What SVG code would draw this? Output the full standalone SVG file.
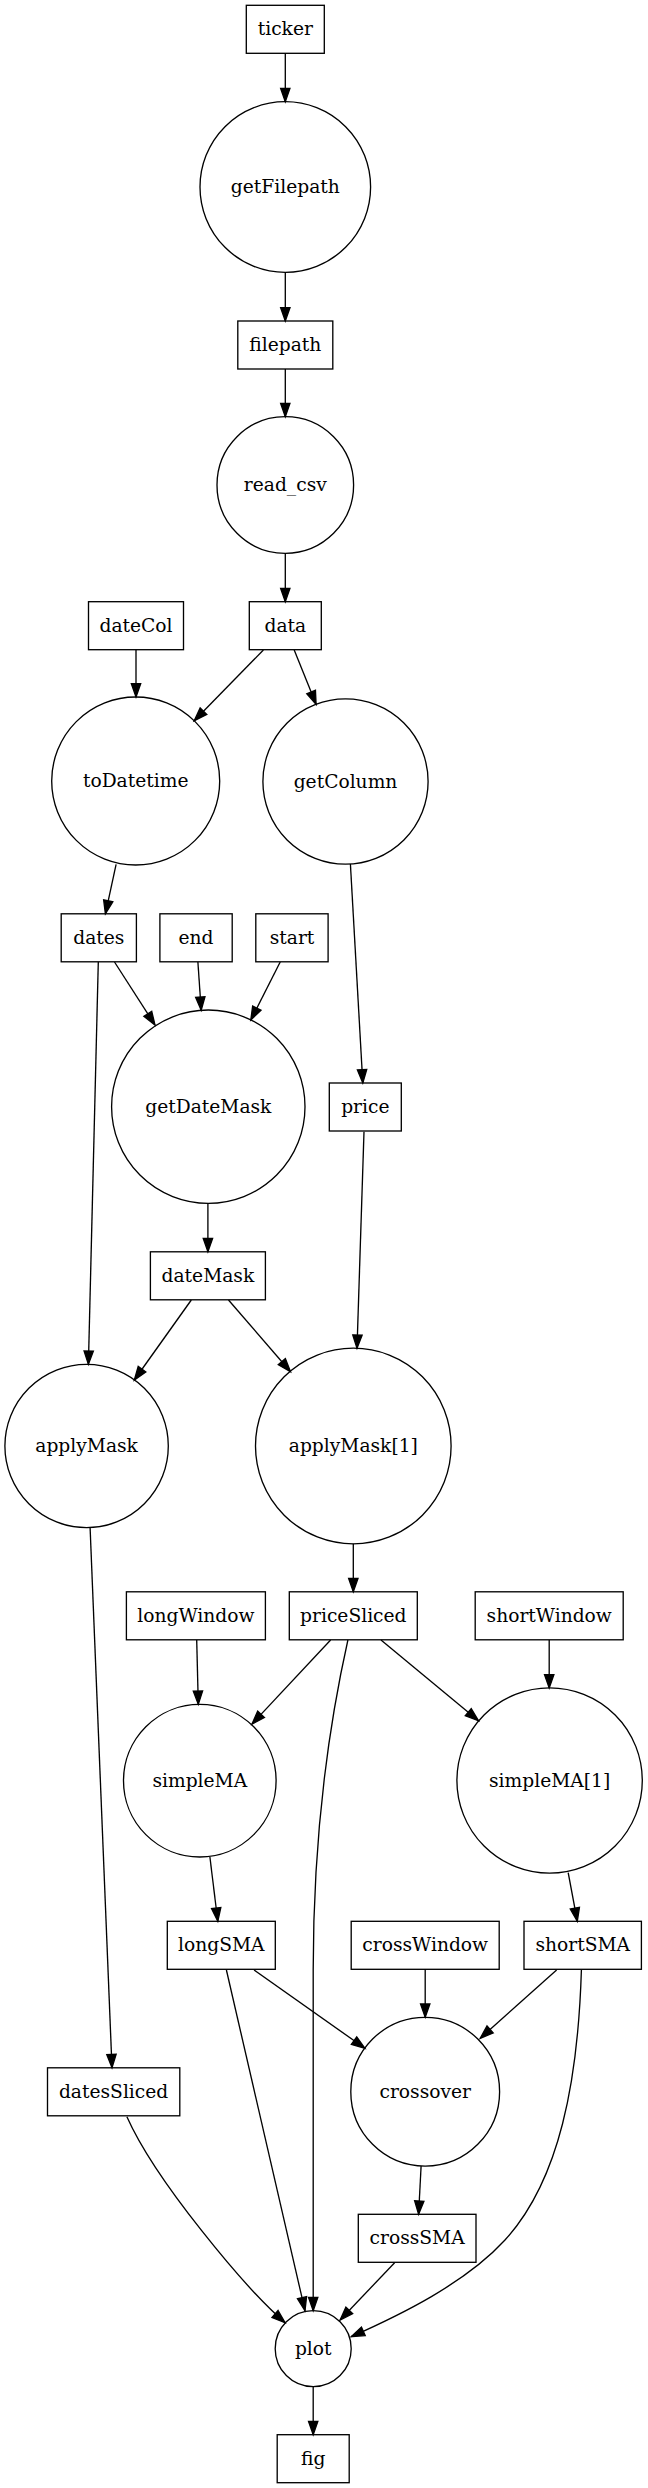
<svg xmlns="http://www.w3.org/2000/svg" width="648" height="2488" viewBox="0 0 648 2488">
<style>
.n rect,.n circle{fill:none;stroke:#000;stroke-width:1.33}
.n text{font-family:"DejaVu Serif",serif;font-size:18.67px;text-anchor:middle;fill:#000}
.e path{fill:none;stroke:#000;stroke-width:1.33;marker-end:url(#ah)}
</style>
<defs>
<marker id="ah" markerUnits="userSpaceOnUse" markerWidth="18" markerHeight="14" refX="14" refY="7" orient="auto" overflow="visible">
<path d="M0.7,2.33 L14,7 L0.7,11.67 z" fill="#000" stroke="#000" stroke-width="1.33"/>
</marker>
</defs>
<rect width="648" height="2488" fill="#fff"/>
<g id="edges" class="e">
<path d="M285.3,53.3 L285.3,101.7"/>
<path d="M285.3,272.3 L285.3,321"/>
<path d="M285.3,369 L285.3,416.7"/>
<path d="M285.3,553.3 L285.3,601.7"/>
<path d="M136,649.7 L136,697"/>
<path d="M263.4,650 L194.2,720.7"/>
<path d="M294.2,650 L316.1,704.3"/>
<path d="M116.1,864.3 L105.4,913.8"/>
<path d="M350.4,864 L362.8,1083"/>
<path d="M114.5,962 L155,1025"/>
<path d="M197.9,962 L201.2,1010.3"/>
<path d="M280.2,962 L250.8,1020"/>
<path d="M98.3,962 L88.4,1364.3"/>
<path d="M207.9,1203.3 L207.9,1251.8"/>
<path d="M364,1131.7 L357,1348.3"/>
<path d="M191.3,1300 L134.3,1380"/>
<path d="M228.5,1300 L290.5,1371.7"/>
<path d="M353.3,1543.7 L353.3,1591.8"/>
<path d="M90.1,1527.7 L112,2067.7"/>
<path d="M196.7,1640 L198.3,1704.3"/>
<path d="M330.6,1640 L252,1724"/>
<path d="M381,1640 L478.5,1720.7"/>
<path d="M549.2,1640 L549.2,1688"/>
<path d="M347.9,1640 C330,1720 313.2,1830 313.2,1970 L313.2,2310.7"/>
<path d="M209.9,1857 L217.8,1921.3"/>
<path d="M568.2,1872.7 L577.3,1921.3"/>
<path d="M425.2,1969.3 L425.2,2017.3"/>
<path d="M254.1,1970 L364.9,2048.3"/>
<path d="M556.6,1970 L480.2,2038.3"/>
<path d="M226.4,1970 L305,2310.7"/>
<path d="M581.4,1970 C578,2080 560,2180 505,2240 C465,2283.6 400,2315 351.2,2336.7"/>
<path d="M421.1,2166 L418.6,2214.3"/>
<path d="M394.6,2262.7 L340.1,2320"/>
<path d="M126.9,2116.7 C155,2180 245,2288 285.1,2322.7"/>
<path d="M313.2,2386.7 L313.2,2434.7"/>
</g>
<g id="ticker" class="n"><rect x="246.3" y="5.3" width="78" height="48"/><text x="285.3" y="35.3">ticker</text></g>
<g id="getFilepath" class="n"><circle cx="285.3" cy="187" r="85.3"/><text x="285.3" y="193">getFilepath</text></g>
<g id="filepath" class="n"><rect x="237.8" y="321" width="95" height="48"/><text x="285.3" y="351">filepath</text></g>
<g id="read_csv" class="n"><circle cx="285.3" cy="485" r="68.3"/><text x="285.3" y="491">read_csv</text></g>
<g id="dateCol" class="n"><rect x="88.5" y="601.7" width="95" height="48"/><text x="136" y="631.7">dateCol</text></g>
<g id="data" class="n"><rect x="249.3" y="601.7" width="72" height="48"/><text x="285.3" y="631.7">data</text></g>
<g id="toDatetime" class="n"><circle cx="135.7" cy="781" r="84"/><text x="135.7" y="787">toDatetime</text></g>
<g id="getColumn" class="n"><circle cx="345.5" cy="781.5" r="82.6"/><text x="345.5" y="787.5">getColumn</text></g>
<g id="dates" class="n"><rect x="61.2" y="913.8" width="75.2" height="48"/><text x="98.8" y="943.8">dates</text></g>
<g id="end" class="n"><rect x="159.9" y="913.8" width="72.3" height="48"/><text x="196" y="943.8">end</text></g>
<g id="start" class="n"><rect x="255.8" y="913.8" width="72.3" height="48"/><text x="292" y="943.8">start</text></g>
<g id="getDateMask" class="n"><circle cx="208.3" cy="1106.7" r="96.7"/><text x="208.3" y="1112.7">getDateMask</text></g>
<g id="price" class="n"><rect x="329.3" y="1083" width="72" height="48"/><text x="365.3" y="1113">price</text></g>
<g id="dateMask" class="n"><rect x="150.4" y="1251.8" width="115" height="48"/><text x="207.9" y="1281.8">dateMask</text></g>
<g id="applyMask" class="n"><circle cx="86.6" cy="1446" r="81.7"/><text x="86.6" y="1452">applyMask</text></g>
<g id="applyMask1" class="n"><circle cx="353.3" cy="1446" r="97.8"/><text x="353.3" y="1452">applyMask[1]</text></g>
<g id="longWindow" class="n"><rect x="126.4" y="1591.8" width="139" height="48"/><text x="195.9" y="1621.8">longWindow</text></g>
<g id="priceSliced" class="n"><rect x="289.3" y="1591.8" width="128" height="48"/><text x="353.3" y="1621.8">priceSliced</text></g>
<g id="shortWindow" class="n"><rect x="475.2" y="1591.8" width="148" height="48"/><text x="549.2" y="1621.8">shortWindow</text></g>
<g id="simpleMA" class="n"><circle cx="199.8" cy="1780.7" r="76.3"/><text x="199.8" y="1786.7">simpleMA</text></g>
<g id="simpleMA1" class="n"><circle cx="549.6" cy="1780.5" r="92.7"/><text x="549.6" y="1786.5">simpleMA[1]</text></g>
<g id="longSMA" class="n"><rect x="167.3" y="1921.3" width="108" height="48"/><text x="221.3" y="1951.3">longSMA</text></g>
<g id="crossWindow" class="n"><rect x="351.2" y="1921.3" width="148" height="48"/><text x="425.2" y="1951.3">crossWindow</text></g>
<g id="shortSMA" class="n"><rect x="524" y="1921.3" width="117.4" height="48"/><text x="582.7" y="1951.3">shortSMA</text></g>
<g id="datesSliced" class="n"><rect x="47.5" y="2067.8" width="132.3" height="48"/><text x="113.6" y="2097.8">datesSliced</text></g>
<g id="crossover" class="n"><circle cx="425.2" cy="2091.7" r="74.4"/><text x="425.2" y="2097.7">crossover</text></g>
<g id="crossSMA" class="n"><rect x="358.3" y="2214.3" width="117.7" height="48"/><text x="417.1" y="2244.3">crossSMA</text></g>
<g id="plot" class="n"><circle cx="313.2" cy="2348.7" r="38"/><text x="313.2" y="2354.7">plot</text></g>
<g id="fig" class="n"><rect x="277.2" y="2434.7" width="72" height="48"/><text x="313.2" y="2464.7">fig</text></g>
</svg>
